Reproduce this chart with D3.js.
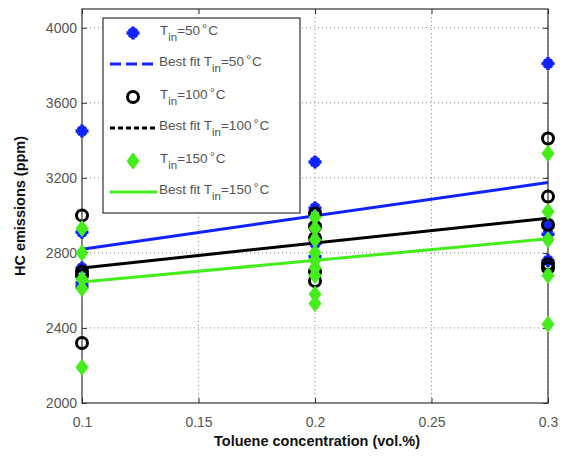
<!DOCTYPE html>
<html><head><meta charset="utf-8">
<script src="https://cdn.jsdelivr.net/npm/d3@7"></script>
<style>body{margin:0;background:#fff}svg{display:block}text{font-family:"Liberation Sans",Arial,sans-serif}</style>
</head><body><div id="chart"></div>
<script>
// ---- data ----
const xTicks = [0.1, 0.15, 0.2, 0.25, 0.3];
const yTicks = [2000, 2400, 2800, 3200, 3600, 4000];
const conc = [0.1, 0.2, 0.3];
const t50 = [
  [3450, 2910, 2720, 2640, 2620],
  [3285, 3040, 2950, 2850, 2780],
  [3810, 2950, 2940, 2900, 2760]
];
const t100 = [
  [3000, 2700, 2680, 2320],
  [3010, 2940, 2880, 2700, 2650],
  [3410, 3100, 2950, 2740, 2720]
];
const t150 = [
  [2930, 2800, 2660, 2610, 2190],
  [2990, 2930, 2870, 2800, 2760, 2720, 2680, 2580, 2530],
  [3330, 3020, 2870, 2680, 2420]
];
const fit50 = [2820, 3175];
const fit100 = [2720, 2985];
const fit150 = [2645, 2875];
const fitX = [0.1, 0.3];
const legendLabels = ["=50°C", "=50°C", "=100°C", "=100°C", "=150°C", "=150°C"];

// ---- layout ----
const W = 571, H = 456;
const L = 82, R = 548, T = 9, B = 403;
const BLUE = "#0f22ff", GREEN = "#44ee1a";
const svg = d3.select("#chart").append("svg").attr("width", W).attr("height", H);
const x = d3.scaleLinear().domain([0.1, 0.3]).range([L, R]);
const y = d3.scaleLinear().domain([2000, 4100]).range([B, T]);

// grid
const g = svg.append("g");
g.selectAll(".gy").data(yTicks.filter(v => v > 2000)).enter().append("line")
  .attr("x1", L).attr("x2", R).attr("y1", d => y(d)).attr("y2", d => y(d))
  .attr("stroke", "#888").attr("stroke-width", 1).attr("stroke-dasharray", "1,3");
g.selectAll(".gx").data(xTicks.filter(v => v > 0.1)).enter().append("line")
  .attr("y1", T).attr("y2", B).attr("x1", d => x(d)).attr("x2", d => x(d))
  .attr("stroke", "#888").attr("stroke-width", 1).attr("stroke-dasharray", "1,3");

// axes
const axL = d3.axisLeft(y).tickValues(yTicks).tickSizeInner(-5).tickSizeOuter(0).tickPadding(5).tickFormat(d3.format("d"));
const axB = d3.axisBottom(x).tickValues(xTicks).tickSizeInner(-5).tickSizeOuter(0).tickPadding(14).tickFormat(d => String(d));
const axR = d3.axisRight(y).tickValues(yTicks).tickSizeInner(-5).tickSizeOuter(0).tickFormat("");
const axT = d3.axisTop(x).tickValues(xTicks).tickSizeInner(-5).tickSizeOuter(0).tickFormat("");
function styleAx(sel) {
  sel.select(".domain").remove();
  sel.selectAll("line").attr("stroke", "#333");
  sel.selectAll("text").attr("fill", "#555").style("font-size", "14px");
}
svg.append("g").attr("transform", `translate(${L},0)`).call(axL).call(styleAx);
svg.append("g").attr("transform", `translate(0,${B})`).call(axB).call(styleAx);
svg.append("g").attr("transform", `translate(${R},0)`).call(axR).call(styleAx);
svg.append("g").attr("transform", `translate(0,${T})`).call(axT).call(styleAx);
svg.append("rect").attr("x", L).attr("y", T).attr("width", R - L).attr("height", B - T)
  .attr("fill", "none").attr("stroke", "#333").attr("stroke-width", 1.2);

// markers
const starPath = "M-6.5,0L6.5,0M0,-6.5L0,6.5M-4,-4L4,4M-4,4L4,-4";
const diamondPath = "M0,-8L6,0L0,8L-6,0Z";
function drawStars(sel, pts) {
  const s = sel.selectAll(null).data(pts).enter().append("g")
    .attr("transform", d => `translate(${x(d[0])},${y(d[1])})`);
  s.append("circle").attr("r", 4.5).attr("fill", BLUE);
  s.append("path").attr("d", starPath).attr("stroke", BLUE).attr("stroke-width", 3.5).attr("fill", "none");
}
function drawCircles(sel, pts) {
  sel.selectAll(null).data(pts).enter().append("circle")
    .attr("cx", d => x(d[0])).attr("cy", d => y(d[1])).attr("r", 5.5)
    .attr("fill", "none").attr("stroke", "#000").attr("stroke-width", 3);
}
function drawDiamonds(sel, pts) {
  sel.selectAll(null).data(pts).enter().append("path")
    .attr("transform", d => `translate(${x(d[0])},${y(d[1])})`)
    .attr("d", diamondPath).attr("fill", GREEN).attr("stroke", GREEN).attr("stroke-width", 1);
}
const flat = arr => arr.flatMap((vals, i) => vals.map(v => [conc[i], v]));
const line = d3.line().x(d => x(d[0])).y(d => y(d[1]));
const fitPts = f => fitX.map((xv, i) => [xv, f[i]]);

const plot = svg.append("g");
drawStars(plot.append("g"), flat(t50));
plot.append("path").attr("d", line(fitPts(fit50))).attr("stroke", BLUE).attr("stroke-width", 3).attr("fill", "none");
drawCircles(plot.append("g"), flat(t100));
plot.append("path").attr("d", line(fitPts(fit100))).attr("stroke", "#000").attr("stroke-width", 3).attr("fill", "none");
drawDiamonds(plot.append("g"), flat(t150));
plot.append("path").attr("d", line(fitPts(fit150))).attr("stroke", GREEN).attr("stroke-width", 3).attr("fill", "none");

// legend
const lg = svg.append("g");
lg.append("rect").attr("x", 103).attr("y", 18).attr("width", 197).attr("height", 195)
  .attr("fill", "#fff").attr("stroke", "#333").attr("stroke-width", 1.2);
const rowsY = [33, 64, 97, 128, 161, 192];
const kinds = ["star", "dash", "circle", "dot", "diamond", "solid"];
kinds.forEach((k, i) => {
  const ry = rowsY[i];
  const mg = () => lg.append("g").attr("transform", `translate(${133 - x(0.1)},${ry - y(3000)})`);
  if (k === "star") drawStars(mg(), [[0.1, 3000]]);
  if (k === "circle") drawCircles(mg(), [[0.1, 3000]]);
  if (k === "diamond") drawDiamonds(mg(), [[0.1, 3000]]);
  if (k === "dash") lg.append("line").attr("x1", 110).attr("x2", 157).attr("y1", ry).attr("y2", ry)
    .attr("stroke", BLUE).attr("stroke-width", 3).attr("stroke-dasharray", "11,5");
  if (k === "dot") lg.append("line").attr("x1", 110).attr("x2", 157).attr("y1", ry).attr("y2", ry)
    .attr("stroke", "#000").attr("stroke-width", 3).attr("stroke-dasharray", "5,3");
  if (k === "solid") lg.append("line").attr("x1", 110).attr("x2", 157).attr("y1", ry).attr("y2", ry)
    .attr("stroke", GREEN).attr("stroke-width", 3);
  const isFit = (i % 2 === 1);
  const t = lg.append("text").attr("x", isFit ? 159 : 160).attr("y", ry + 2).attr("fill", "#555").style("font-size", "13.5px");
  t.append("tspan").text(isFit ? "Best fit T" : "T");
  t.append("tspan").attr("dy", 6).style("font-size", "11.5px").text("in");
  const lbl = legendLabels[i];
  const deg = lbl.indexOf("°");
  t.append("tspan").attr("dy", -6).text(lbl.slice(0, deg));
  t.append("tspan").attr("dy", -2).attr("dx", 2).style("font-size", "13px").text("°");
  t.append("tspan").attr("dy", 2).attr("dx", 1).text(lbl.slice(deg + 1));
});

// axis titles
svg.append("text").attr("x", (L + R) / 2 + 2).attr("y", 446).attr("text-anchor", "middle")
  .style("font-size", "14.5px").style("font-weight", "bold").attr("fill", "#111").text("Toluene concentration (vol.%)");
svg.append("text").attr("transform", `translate(25,${(T + B) / 2}) rotate(-90)`).attr("text-anchor", "middle")
  .style("font-size", "14.5px").style("font-weight", "bold").attr("fill", "#111").text("HC emissions (ppm)");
</script></body></html>
